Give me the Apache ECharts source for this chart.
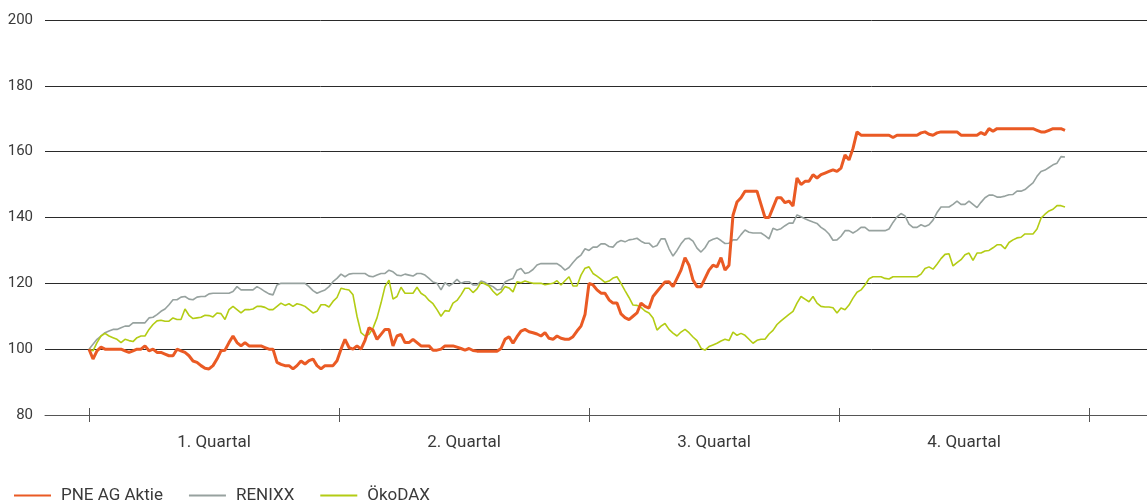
<!DOCTYPE html>
<html>
<head>
<meta charset="utf-8">
<script src="https://cdn.jsdelivr.net/npm/echarts@6/dist/echarts.min.js"></script>
<style>
html,body{margin:0;padding:0;background:#fff;}
#chart{width:1147px;height:500px;}
</style>
</head>
<body>
<div id="chart"></div>
<script>
const seriesNames = ['PNE AG Aktie', 'RENIXX', 'ÖkoDAX'];
const quarterLabels = ['1. Quartal', '2. Quartal', '3. Quartal', '4. Quartal'];
const quarterTicks = [0, 62.5, 125, 187.5, 250];
const yTicks = [80, 100, 120, 140, 160, 180, 200];

const pne = [
100, 97, 99.5, 100.6, 100, 100, 100, 100, 100, 99.5,
99, 99.5, 100, 100, 101, 99.5, 100, 99, 99, 98.5,
98, 98, 100, 99.5, 99, 98, 96.4, 96, 95, 94.2,
94, 95, 97, 99.5, 99.7, 102, 104, 102, 101, 102,
101, 101, 101, 101, 100.5, 100, 100, 96, 95.4, 95,
95, 94, 95, 96.4, 95.5, 96.5, 97, 95, 94, 95,
95, 95, 96.5, 100, 103, 100.5, 100, 101, 100, 102.7,
106.5, 105.8, 103, 104.5, 106, 106, 101, 104, 104.5, 102,
102, 103, 102, 101, 101, 101, 99.7, 99.7, 100, 101,
101, 101, 100.6, 100.2, 99.7, 100.2, 99.6, 99.4, 99.4, 99.4,
99.4, 99.4, 99.4, 100.2, 103, 103.8, 101.8, 103.8, 105.5, 106,
105.3, 105, 104.6, 104, 105, 103.3, 103, 104, 103.3, 103,
103, 103.8, 105.5, 107, 110.5, 120, 119.5, 118, 117, 117,
115, 114, 114, 110.7, 109.6, 109, 110, 111, 114, 113,
112.5, 116, 117.5, 119, 120.4, 120.5, 119, 121.5, 124, 127.8,
125.5, 121, 119, 119, 121.5, 124, 125.5, 125, 127.8, 124,
125.5, 140.7, 144.7, 146, 148, 148, 148, 148, 144, 140,
140, 143, 146, 146, 144.5, 145, 143.5, 152, 150, 151,
151, 153, 152, 153, 153.5, 154, 154.5, 154, 155, 159,
157.5, 161, 166, 165, 165, 165, 165, 165, 165, 165,
165, 164.3, 165, 165, 165, 165, 165, 165, 165.7, 166,
165.3, 165, 165.7, 166, 166, 166, 166, 166, 165, 165,
165, 165, 165, 165.8, 165.2, 167, 166.2, 167, 167, 167,
167, 167, 167, 167, 167, 167, 167, 166.5, 166, 166,
166.5, 167, 167, 167, 166.5
];

const renixx = [
100, 101.5, 103, 104, 105, 105.5, 106, 106, 106.5, 107,
107, 108, 108, 108, 108, 109.5, 109.7, 110.5, 111.5, 112.2,
113.5, 115, 115, 115.8, 116, 115.2, 115, 115.8, 116, 116,
116.8, 117, 117, 117, 117, 117, 117.5, 119, 118, 118,
118, 118, 119, 118.3, 117.5, 116.8, 116.5, 119.5, 120, 120,
120, 120, 120, 120, 120, 119, 117.8, 117, 117.5, 118,
119, 120.5, 121.5, 122.8, 122, 122.8, 123, 123, 123, 123,
122.2, 122, 122.5, 123, 123, 124, 123.5, 122.5, 122.3, 122.8,
122.5, 122.2, 123, 123, 122.5, 121.5, 120.4, 120, 118, 120.2,
119.2, 120, 121.2, 120, 120.5, 120.5, 119.5, 119.5, 120.7, 120.3,
119.5, 119, 118, 118.2, 120.4, 121, 121.5, 124, 124.5, 123,
123.3, 124.2, 125.6, 126, 126, 126, 126, 126, 125.2, 124,
124.8, 126.3, 127.7, 128.6, 130.5, 130, 131, 131, 132, 132,
131.2, 131, 132.4, 133, 132.6, 133.2, 133.4, 133.7, 132.8, 132.2,
132.2, 131, 131.5, 133.5, 133.5, 130.5, 128.3, 130, 132, 133.5,
133.7, 132.8, 130.7, 129.5, 130.8, 132.8, 133.4, 133.8, 133, 132.1,
132.2, 133.2, 133.2, 134.8, 136.2, 135.5, 135.3, 135.3, 135.3, 134.5,
133.5, 136.7, 136.2, 136.6, 137.5, 138.3, 138.3, 140.8, 140.2, 139.6,
139.1, 138.6, 138.2, 137, 136.2, 135, 133.1, 133.2, 134.3, 136,
136, 135.3, 136, 137, 137, 136, 136, 136, 136, 136,
136.5, 138.5, 140.2, 141.2, 140.5, 138, 137, 137, 137.8, 137.3,
137.8, 139.2, 141.5, 143.2, 143.2, 143.2, 144, 145, 144, 144,
145, 144, 143, 144.6, 146, 146.8, 146.8, 146.2, 146.2, 146.5,
146.9, 147, 148, 148, 148.5, 149.5, 150.5, 152.5, 154, 154.4,
155.2, 156, 156.5, 158.5, 158.4
];

const oekodax = [
100, 99.5, 102, 104, 104.8, 104, 103.5, 103, 102, 103,
102.6, 102.3, 103.5, 104, 104, 106, 107.5, 108.6, 108.8, 108.5,
108.5, 109.5, 109, 109, 112.2, 110.3, 109.3, 109.5, 109.7, 110.3,
110.2, 109.8, 111, 110.8, 109, 112, 113, 112, 111, 112,
112, 112.2, 113, 113, 112.7, 112, 112, 113, 114, 113.3,
113.8, 113, 113.8, 113.5, 113, 112, 111, 111.5, 113.5, 113.5,
112.8, 114.5, 115.7, 118.5, 118.2, 118, 116.5, 110, 105, 104,
104.5, 106.4, 109.5, 114, 119, 121, 115.2, 116, 118.8, 117,
117, 117, 118.8, 117, 116.2, 114.8, 113.8, 112, 110, 111.7,
111.5, 114, 114.8, 116.5, 118.5, 118.5, 117.2, 118.3, 120.3, 119.8,
119.2, 117.6, 116.4, 117.3, 119, 118.6, 117.4, 120.5, 120.2, 120.7,
120.3, 120, 120, 120, 119.6, 119.8, 120, 120.8, 119.5, 120.8,
122, 119.2, 119.2, 122.5, 124.6, 125, 123, 122.2, 121.3, 120.3,
120.7, 121.6, 122, 120, 117.8, 115.7, 113.4, 113.3, 112.7, 111.6,
111, 109.5, 105.8, 107, 107.8, 106, 104.9, 104, 105.2, 106,
105, 103.7, 102.6, 100.3, 99.7, 100.8, 101.3, 101.8, 102.5, 103,
102.6, 105.2, 104.2, 104.8, 104.2, 103, 101.8, 102.7, 103, 103,
104.6, 105.7, 107.5, 108.6, 109.6, 110.6, 111.5, 114, 116, 115.2,
114.4, 116, 114, 113, 112.8, 112.8, 112.6, 111, 112.5, 112,
113.4, 115.5, 117.3, 118, 119.5, 121.4, 122, 122, 122, 121.5,
121.3, 122, 122, 122, 122, 122, 122, 122, 122.8, 124.5,
125, 124.3, 125.8, 127.5, 128.8, 129, 125.3, 126.3, 127.2, 128.7,
129.2, 127, 129.2, 129.2, 129.8, 130, 130.8, 131.7, 131.7, 130.5,
132.4, 133.2, 133.8, 134, 135, 135, 135, 136.5, 139.8, 141,
142, 142.5, 143.6, 143.6, 143.2
];

const toPairs = arr => arr.map((v, i) => [i, v]);
const labelCenters = quarterLabels.map((_, i) => (quarterTicks[i] + quarterTicks[i + 1]) / 2);

const font = 'Roboto, "Noto Sans", sans-serif';
const chart = echarts.init(document.getElementById('chart'), null, {renderer: 'canvas'});
chart.setOption({
  animation: false,
  backgroundColor: '#ffffff',
  grid: {left: 45, right: 0, top: 20, bottom: 85, containLabel: false},
  legend: {
    left: 8, top: 482,
    itemWidth: 37, itemHeight: 14, itemGap: 25,
    itemStyle: {color: 'rgba(0,0,0,0)', borderWidth: 0, opacity: 0},
    textStyle: {fontFamily: font, fontSize: 17, color: '#3a3a3a', padding: [0, 0, 0, 5]},
    data: seriesNames
  },
  xAxis: [{
    type: 'value',
    min: -11, max: 264.5,
    axisLine: {show: true, lineStyle: {color: '#555', width: 1}},
    axisTick: {show: true, inside: false, length: 7, customValues: quarterTicks, lineStyle: {color: '#555'}},
    axisLabel: {
      show: true, customValues: labelCenters, margin: 19,
      fontFamily: font, fontSize: 17, color: '#3a3a3a',
      formatter: v => {
        const idx = labelCenters.indexOf(v);
        return idx >= 0 ? quarterLabels[idx] : '';
      }
    },
    splitLine: {show: false}
  }, {
    type: 'value',
    min: -11, max: 264.5,
    position: 'bottom',
    axisLine: {show: false},
    axisTick: {show: true, inside: true, length: 7, customValues: quarterTicks, lineStyle: {color: '#555'}},
    axisLabel: {show: false},
    splitLine: {show: false}
  }],
  yAxis: {
    type: 'value',
    min: yTicks[0], max: yTicks[yTicks.length - 1], interval: 20,
    axisLine: {show: false},
    axisTick: {show: false},
    axisLabel: {margin: 12, fontFamily: font, fontSize: 15, color: '#3a3a3a'},
    splitLine: {show: true, lineStyle: {color: '#2a2a2a', width: 1}}
  },
  series: [{
    name: seriesNames[0], type: 'line', data: toPairs(pne),
    symbol: 'none', z: 5,
    lineStyle: {color: '#EA5A24', width: 3},
    itemStyle: {color: '#EA5A24'}
  }, {
    name: seriesNames[1], type: 'line', data: toPairs(renixx),
    symbol: 'none', z: 3,
    lineStyle: {color: '#97A29F', width: 1.6},
    itemStyle: {color: '#97A29F'}
  }, {
    name: seriesNames[2], type: 'line', data: toPairs(oekodax),
    symbol: 'none', z: 4,
    lineStyle: {color: '#B3CC14', width: 1.6},
    itemStyle: {color: '#B3CC14'}
  }]
});
</script>
</body>
</html>
